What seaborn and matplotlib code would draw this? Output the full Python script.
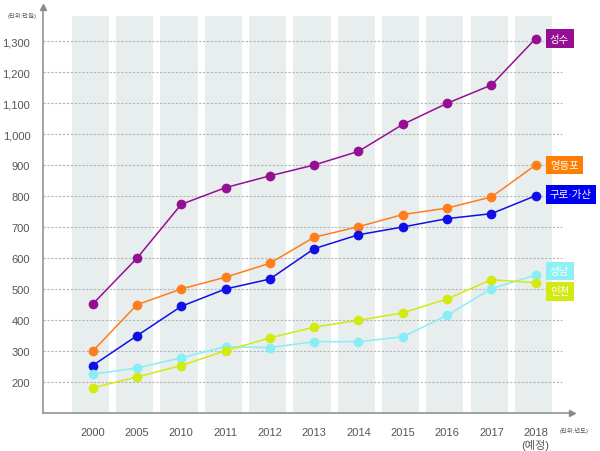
import numpy as np
import matplotlib
matplotlib.use("Agg")
import matplotlib.pyplot as plt
import seaborn as sns
import pandas as pd

# data
years = ["2000", "2005", "2010", "2011", "2012", "2013", "2014", "2015", "2016", "2017", "2018\n(예정)"]
seongsu = [451, 599, 773, 827, 865, 900, 944, 1031, 1099, 1158, 1308]
yeongdeungpo = [299, 449, 500, 538, 583, 667, 701, 740, 761, 797, 900]
guro_gasan = [253, 349, 444, 500, 532, 630, 675, 700, 727, 743, 801]
seongnam = [225, 245, 278, 314, 311, 330, 330, 346, 415, 501, 545]
incheon = [181, 216, 253, 301, 342, 377, 399, 423, 468, 530, 520]

regions = ["성수", "영등포", "구로·가산", "성남", "인천"]
series = [seongsu, yeongdeungpo, guro_gasan, seongnam, incheon]
line_colors = ["#960f92", "#ff7d1c", "#1010e6", "#86eef6", "#d2ea10"]
box_colors = ["#960f92", "#ff7d00", "#0000f0", "#8cf0f6", "#d2ea10"]
label_y = [1308, 900, 806, 558, 492]

yticks = list(range(200, 1400, 100))

rows = []
for name, vals in zip(regions, series):
    for i, v in enumerate(vals):
        rows.append({"pos": i, "value": v, "region": name})
df = pd.DataFrame(rows)

sns.set_theme(style="white")
plt.rcParams["font.family"] = ["Liberation Sans", "Noto Sans CJK KR", "DejaVu Sans"]

fig = plt.figure(figsize=(6, 4.52), dpi=100)
ax = fig.add_axes([0.0712, 0.0841, 0.8815, 0.8984])
ax.set_xlim(-1.125, 10.81)
ax.set_ylim(100, 1410)

# background bands
for i in range(len(years)):
    ax.axvspan(i - 0.47, i + 0.37, ymin=0, ymax=(1381 - 100) / 1310,
               color="#e7eeed", lw=0, zorder=0)

# dashed grid lines
ax.hlines(yticks, -1.125, 10.6, colors="#b5b5b5", linestyles=(0, (2, 1.5)),
          linewidth=0.8, zorder=1)

sns.lineplot(data=df, x="pos", y="value", hue="region", palette=line_colors,
             hue_order=regions, marker="o", markersize=7, markeredgewidth=0,
             linewidth=1.1, legend=False, ax=ax, zorder=3)

for name, c, yv in zip(regions, box_colors, label_y):
    ax.text(10.32, yv, name, color="white", fontsize=7.5, ha="left", va="center",
            family=["Liberation Sans", "Noto Sans CJK KR"],
            bbox=dict(boxstyle="square,pad=0.42", fc=c, ec="none"),
            clip_on=False, zorder=5)

for s in ["top", "right"]:
    ax.spines[s].set_visible(False)
for s in ["left", "bottom"]:
    ax.spines[s].set_color("#8a8a8a")
    ax.spines[s].set_linewidth(1.1)

ax.plot(0, 1, marker="^", color="#8a8a8a", markersize=4, transform=ax.transAxes, clip_on=False)
ax.plot(1, 0, marker=">", color="#8a8a8a", markersize=4, transform=ax.transAxes, clip_on=False)

ax.set_yticks(yticks)
ax.set_yticklabels([f"{v:,}" for v in yticks])
ax.set_xticks(range(len(years)))
ax.set_xticklabels(years, linespacing=1.2)
ax.tick_params(axis="y", length=0, pad=9, labelsize=8, labelcolor="#555555")
ax.tick_params(axis="x", length=4, width=0.8, direction="inout", color="#8a8a8a",
               pad=8, labelsize=8, labelcolor="#555555")
ax.set_xlabel("")
ax.set_ylabel("")

fig.text(0.013, 1 - 16 / 452, "(단위:만원)", fontsize=4.5, color="#555555", va="center")
fig.text(0.932, 1 - 431 / 452, "(단위:년도)", fontsize=4.5, color="#555555", va="center")

fig.savefig("out.png", dpi=100)
